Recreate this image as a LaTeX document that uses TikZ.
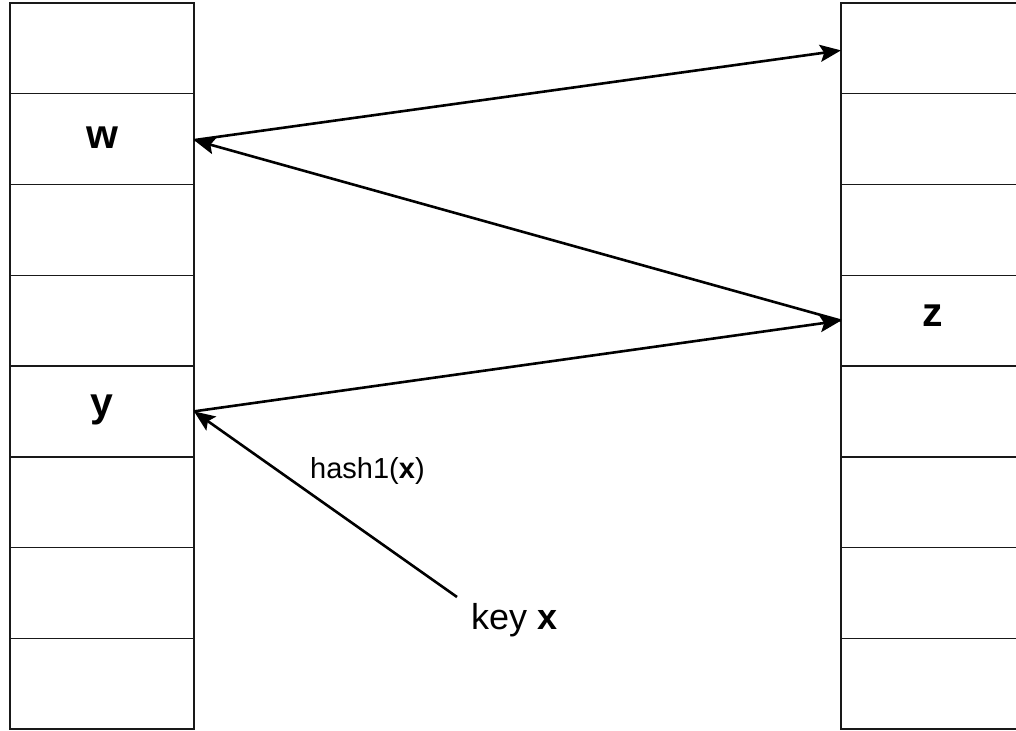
\documentclass[tikz,border=0pt]{standalone}
\usepackage{fontspec}
\setmainfont{Liberation Sans}
\usetikzlibrary{arrows.meta}
\tikzset{
  cell/.style={draw=black!90, line width=1.5pt, minimum width=184pt, minimum height=90.75pt, inner sep=0pt, outer sep=0pt},
  lbl/.style={anchor=base, inner sep=0pt, font=\fontsize{41}{46}\selectfont\bfseries},
  conn/.style={line width=2.6pt, -{Stealth[length=21pt, width=17pt, inset=4pt]}},
}
\begin{document}
\begin{tikzpicture}[x=1pt, y=-1pt]
\useasboundingbox (0,0) rectangle (1016,730);
\clip (0,0) rectangle (1016,730);
\foreach \i in {1,...,8} {
  \node[cell] (L\i) at (102, {3+90.75*(\i-0.5)}) {};
  \node[cell] (R\i) at (933, {3+90.75*(\i-0.5)}) {};
}
\node[lbl] (w) at (102,149) {w};
\node[lbl] (y) at (102,416) {y};
\node[lbl] (z) at (933,326) {z};
\node[anchor=base west, inner sep=0pt, font=\fontsize{36}{42}\selectfont] (key) at (471,629) {key \textbf{x}};
\node[anchor=base west, inner sep=0pt, font=\fontsize{29}{34}\selectfont] (hash) at (310,478) {hash1(\textbf{x})};
\coordinate (keyend) at (457,597);
\coordinate (wpt) at ([yshift=-1pt]L2.east);
\draw[conn] (wpt) -- ([yshift=-2pt]R1.west);
\draw[conn] (R4.west) -- (wpt);
\draw[conn] (L5.east) -- (R4.west);
\draw[conn] (keyend) -- (L5.east);
\end{tikzpicture}
\end{document}
